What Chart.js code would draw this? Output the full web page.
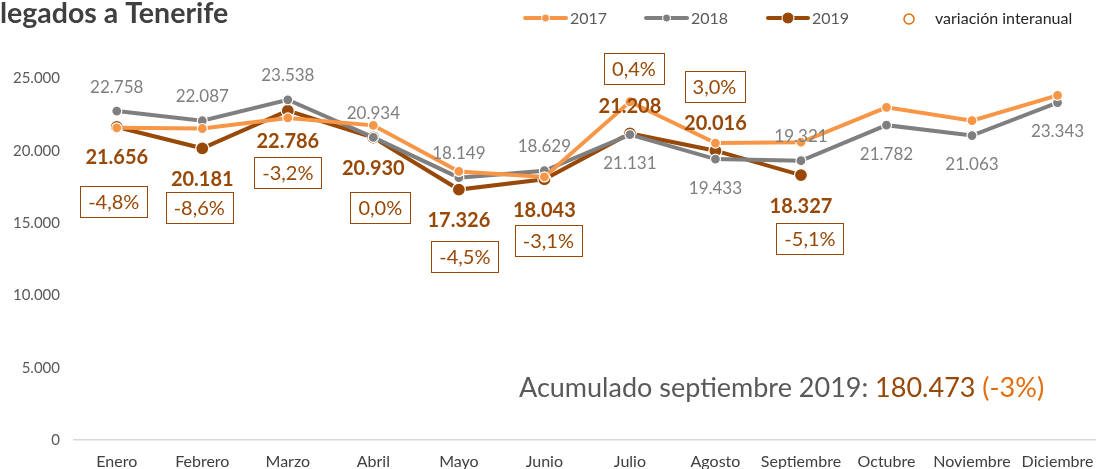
<!DOCTYPE html>
<html>
<head>
<meta charset="utf-8">
<script src="https://cdn.jsdelivr.net/npm/chart.js@4.4.1/dist/chart.umd.min.js"></script>
<style>
html,body{margin:0;padding:0;background:#fff;overflow:hidden;}
#wrap{width:1096px;height:469px;position:relative;overflow:hidden;}
</style>
</head>
<body>
<div id="wrap"><canvas id="c" width="1108" height="469"></canvas></div>
<script>
// ---- data ----
const categories = ['Enero','Febrero','Marzo','Abril','Mayo','Junio','Julio','Agosto','Septiembre','Octubre','Noviembre','Diciembre'];
const v2017 = [21600, 21550, 22280, 21770, 18580, 18200, 23400, 20545, 20600, 23015, 22090, 23840];
const v2018 = [22758, 22087, 23538, 20934, 18149, 18629, 21131, 19433, 19321, 21782, 21063, 23343];
const v2019 = [21656, 20181, 22786, 20930, 17326, 18043, 21208, 20016, 18327];
const variacion = ['-4,8%','-8,6%','-3,2%','0,0%','-4,5%','-3,1%','0,4%','3,0%','-5,1%'];
// anchor (in axis units) where each variation label box sits
const variacionAnchor = [16500, 16100, 18525, 16100, 12690, 13780, 25730, 24450, 13920];
const yTicks = [0, 5000, 10000, 15000, 20000, 25000];
const acumuladoTxt = 'Acumulado septiembre 2019: ';
const acumuladoVal = '180.473';
const acumuladoPct = ' (-3%)';
const titleTxt = 'legados a Tenerife';

// ---- label placement (not data) ----
const pos2018 = ['a','a','a','a','a','a','b','b','a','b','b','b'];
const pos2019 = ['b','b','b','b','b','b','a','a','b'];
const varDx = [-3, -3, 0, 7, 6, 4, 4, -1, 9];

const C17 = '#F79646', C18 = '#7F7F7F', C19 = '#984807', CVAR = '#E46C0A';
const FONT = 'Lato, "Open Sans", sans-serif';

function fmt(n){ return String(n).replace(/\B(?=(\d{3})+(?!\d))/g, '.'); }

const labelsPlugin = {
  id: 'labels',
  afterDraw(chart){
    const ctx = chart.ctx;
    ctx.save();
    // Title
    ctx.font = 'bold 28.5px ' + FONT;
    ctx.fillStyle = '#404040';
    ctx.textAlign = 'left'; ctx.textBaseline = 'alphabetic';
    ctx.fillText(titleTxt, 0, 23);

    // 2018 labels
    const m18 = chart.getDatasetMeta(1).data;
    ctx.font = '17px ' + FONT;
    ctx.fillStyle = '#7F7F7F';
    ctx.textAlign = 'center'; ctx.textBaseline = 'middle';
    m18.forEach((p, i) => {
      const dy = pos2018[i] === 'a' ? -24 : 29;
      ctx.fillText(fmt(v2018[i]), p.x, p.y + dy);
    });
    // 2019 labels
    const m19 = chart.getDatasetMeta(2).data;
    ctx.font = 'bold 20px ' + FONT;
    ctx.fillStyle = C19;
    m19.forEach((p, i) => {
      const dy = pos2019[i] === 'a' ? -27 : 31;
      ctx.fillText(fmt(v2019[i]), p.x, p.y + dy);
    });
    // variation boxes
    const m3 = chart.getDatasetMeta(3).data;
    ctx.font = '20px ' + FONT;
    m3.forEach((p, i) => {
      const t = variacion[i];
      const w = ctx.measureText(t).width + 16;
      const h = 31;
      const cx = p.x + varDx[i], cy = p.y;
      ctx.fillStyle = '#fff';
      ctx.fillRect(Math.round(cx - w/2) + 0.5, Math.round(cy - h/2) + 0.5, Math.round(w), h);
      ctx.strokeStyle = C19; ctx.lineWidth = 1;
      ctx.strokeRect(Math.round(cx - w/2) + 0.5, Math.round(cy - h/2) + 0.5, Math.round(w), h);
      ctx.fillStyle = C19;
      ctx.fillText(t, cx, cy + 1);
    });

    // Acumulado text
    ctx.font = '27px ' + FONT;
    ctx.textAlign = 'left'; ctx.textBaseline = 'alphabetic';
    let x = 519; const by = 397;
    ctx.fillStyle = '#595959'; ctx.fillText(acumuladoTxt, x, by); x += ctx.measureText(acumuladoTxt).width;
    ctx.fillStyle = C19; ctx.fillText(acumuladoVal, x, by); x += ctx.measureText(acumuladoVal).width;
    ctx.fillStyle = CVAR; ctx.fillText(acumuladoPct, x, by);

    // Legend
    const ly = 18;
    ctx.font = '16px ' + FONT;
    ctx.textBaseline = 'middle';
    const items = [
      {x0:525, x1:566, col:C17, r:4, text:'2017', tx:570},
      {x0:646, x1:687, col:C18, r:4, text:'2018', tx:691},
      {x0:768, x1:808, col:C19, r:6, text:'2019', tx:812}
    ];
    items.forEach(it => {
      ctx.strokeStyle = it.col; ctx.lineWidth = 4; ctx.lineCap = 'round';
      ctx.beginPath(); ctx.moveTo(it.x0, ly); ctx.lineTo(it.x1, ly); ctx.stroke();
      ctx.beginPath(); ctx.arc((it.x0+it.x1)/2, ly, it.r, 0, Math.PI*2);
      ctx.fillStyle = it.col; ctx.fill();
      ctx.strokeStyle = '#fff'; ctx.lineWidth = 1; ctx.stroke();
      ctx.fillStyle = '#595959'; ctx.fillText(it.text, it.tx, ly + 1);
    });
    ctx.beginPath(); ctx.arc(909, ly + 1, 5, 0, Math.PI*2);
    ctx.strokeStyle = CVAR; ctx.lineWidth = 1.5; ctx.stroke();
    ctx.fillStyle = '#262626'; ctx.fillText('variación interanual', 935, ly + 1);
    ctx.restore();
  }
};

new Chart(document.getElementById('c'), {
  type: 'line',
  data: {
    labels: categories,
    datasets: [
      { label: '2017', data: v2017, borderColor: C17, backgroundColor: C17, borderWidth: 4,
        pointRadius: 5, pointBorderColor: '#fff', pointBorderWidth: 1.2, pointBackgroundColor: C17, tension: 0 },
      { label: '2018', data: v2018, borderColor: C18, backgroundColor: C18, borderWidth: 4,
        pointRadius: 5, pointBorderColor: '#fff', pointBorderWidth: 1.2, pointBackgroundColor: C18, tension: 0 },
      { label: '2019', data: v2019, borderColor: C19, backgroundColor: C19, borderWidth: 4,
        pointRadius: 6.5, pointBorderColor: '#fff', pointBorderWidth: 1.2, pointBackgroundColor: C19, tension: 0 },
      { label: 'variación interanual', data: variacionAnchor, showLine: false, pointRadius: 0,
        borderColor: CVAR, backgroundColor: 'transparent' }
    ]
  },
  options: {
    responsive: false,
    animation: false,
    devicePixelRatio: 1,
    layout: { padding: { top: 7, right: 0, left: 0, bottom: 0 } },
    plugins: { legend: { display: false }, tooltip: { enabled: false } },
    scales: {
      x: {
        offset: true,
        grid: { display: false, drawTicks: false },
        border: { display: true, color: '#D9D9D9', width: 1.5 },
        ticks: { color: '#404040', font: { family: FONT, size: 16 }, padding: 12, maxRotation: 0, autoSkip: false },
        afterFit(s){ s.height = 29; }
      },
      y: {
        min: 0, max: 28850,
        afterBuildTicks(s){ s.ticks = yTicks.map(v => ({value: v})); },
        grid: { display: false, drawTicks: false },
        border: { display: false },
        ticks: { color: '#595959', font: { family: FONT, size: 15 }, padding: 14,
          callback: v => fmt(v) },
        afterFit(s){ s.width = 74; }
      }
    }
  },
  plugins: [labelsPlugin]
});
</script>
</body>
</html>
